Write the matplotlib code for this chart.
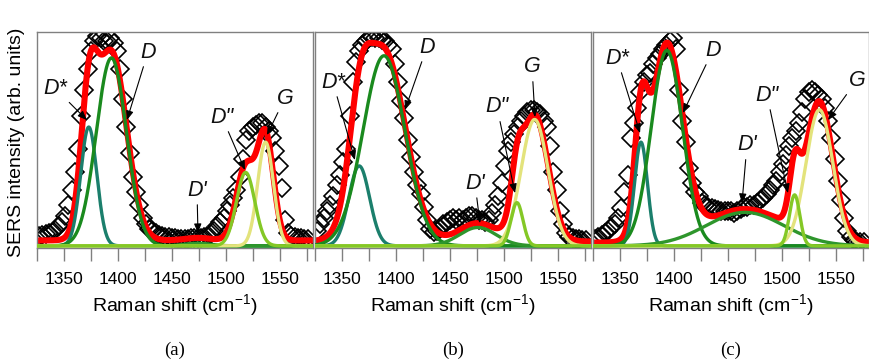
import numpy as np
import matplotlib
matplotlib.use('Agg')
import matplotlib.pyplot as plt
from matplotlib.ticker import MultipleLocator

plt.rcParams['font.family'] = ['Liberation Sans', 'DejaVu Sans']
plt.rcParams['mathtext.fontset'] = 'custom'
plt.rcParams['mathtext.rm'] = 'Liberation Sans'
plt.rcParams['mathtext.it'] = 'Liberation Sans:italic'

# ---------------- data ----------------
shift = [1327, 1330, 1333, 1336, 1339, 1342, 1345, 1348, 1351, 1354,
         1357, 1360, 1363, 1366, 1369, 1372, 1375, 1378, 1381, 1384,
         1387, 1390, 1393, 1396, 1399, 1402, 1405, 1408, 1411, 1414,
         1417, 1420, 1423, 1426, 1429, 1432, 1435, 1438, 1441, 1444,
         1447, 1450, 1453, 1456, 1459, 1462, 1465, 1468, 1471, 1474,
         1477, 1480, 1483, 1486, 1489, 1492, 1495, 1498, 1501, 1504,
         1507, 1510, 1513, 1516, 1519, 1522, 1525, 1528, 1531, 1534,
         1537, 1540, 1543, 1546, 1549, 1552, 1555, 1558, 1561, 1564,
         1567, 1570, 1573, 1576]

sers_a = [0.045, 0.05, 0.055, 0.06, 0.065, 0.075, 0.09, 0.11, 0.14, 0.19,
          0.26, 0.34, 0.45, 0.60, 0.72, 0.82, 0.90, 0.95, 0.97, 0.96,
          0.95, 0.95, 0.96, 0.94, 0.90, 0.82, 0.68, 0.55, 0.43, 0.32,
          0.25, 0.19, 0.13, 0.10, 0.08, 0.07, 0.06, 0.05, 0.045, 0.04,
          0.04, 0.035, 0.035, 0.033, 0.032, 0.032, 0.033, 0.035, 0.036, 0.038,
          0.038, 0.04, 0.045, 0.055, 0.07, 0.09, 0.11, 0.13, 0.16, 0.19,
          0.22, 0.26, 0.32, 0.40, 0.49, 0.53, 0.55, 0.56, 0.57, 0.57,
          0.55, 0.53, 0.50, 0.44, 0.37, 0.27, 0.12, 0.06, 0.045, 0.04,
          0.035, 0.035, 0.03, 0.03]

sers_b = [0.07, 0.10, 0.13, 0.16, 0.19, 0.23, 0.28, 0.33, 0.39, 0.45,
          0.60, 0.76, 0.85, 0.90, 0.93, 0.95, 0.96, 0.965, 0.96, 0.96,
          0.955, 0.95, 0.93, 0.91, 0.84, 0.76, 0.67, 0.59, 0.49, 0.41,
          0.34, 0.28, 0.24, 0.18, 0.12, 0.08, 0.065, 0.07, 0.08, 0.10,
          0.11, 0.12, 0.13, 0.12, 0.13, 0.12, 0.13, 0.14, 0.14, 0.13,
          0.12, 0.12, 0.11, 0.12, 0.15, 0.19, 0.23, 0.29, 0.37, 0.44,
          0.48, 0.52, 0.55, 0.58, 0.60, 0.62, 0.63, 0.63, 0.62, 0.61,
          0.58, 0.55, 0.46, 0.34, 0.26, 0.16, 0.10, 0.06, 0.04, 0.035,
          0.03, 0.03, 0.025, 0.025]

sers_c = [0.03, 0.04, 0.05, 0.06, 0.07, 0.085, 0.10, 0.13, 0.175, 0.25,
          0.33, 0.50, 0.57, 0.64, 0.71, 0.76, 0.79, 0.80, 0.84, 0.87,
          0.89, 0.91, 0.93, 0.95, 0.96, 0.91, 0.72, 0.58, 0.48, 0.36,
          0.29, 0.25, 0.23, 0.20, 0.19, 0.18, 0.175, 0.17, 0.165, 0.16,
          0.16, 0.16, 0.16, 0.15, 0.16, 0.17, 0.18, 0.18, 0.19, 0.19,
          0.20, 0.21, 0.22, 0.24, 0.26, 0.28, 0.30, 0.34, 0.38, 0.42,
          0.46, 0.50, 0.53, 0.57, 0.62, 0.68, 0.71, 0.72, 0.71, 0.70,
          0.68, 0.64, 0.58, 0.50, 0.40, 0.30, 0.21, 0.13, 0.07, 0.04,
          0.025, 0.02, 0.02, 0.02]

bands = ['D*', 'D', "D'", 'D"', 'G']
band_colors = ['#1b7f6c', '#1a8a1e', '#2e962c', '#84c826', '#e3e37c']
draw_order = [0, 1, 2, 4, 3]

# fitted Gaussian bands: centre (cm-1), height, sigma (cm-1); constant baseline
centre_a = [1373, 1394, 1474, 1518.5, 1537]
height_a = [0.55, 0.87, 0.012, 0.34, 0.48]
sigma_a = [7.5, 14, 12, 8.5, 7.3]
base_a = 0.025

centre_b = [1366, 1389, 1476, 1512.3, 1528.7]
height_b = [0.37, 0.88, 0.085, 0.20, 0.585]
sigma_b = [9.6, 19.5, 17, 5.5, 12.5]
base_b = 0.02

centre_c = [1369.5, 1393.5, 1466, 1512, 1535]
height_c = [0.48, 0.905, 0.155, 0.236, 0.63]
sigma_c = [6, 14.5, 36, 4.8, 12.5]
base_c = 0.015

# annotation layout (label position, arrow tip) in data coordinates
ann_text_a = [(1341.7, 0.73), (1427.9, 0.897), (1473.4, 0.258), (1496.6, 0.596), (1555, 0.684)]
ann_tip_a = [(1371.3, 0.582), (1408.4, 0.582), (1474.3, 0.059), (1517.9, 0.351), (1538.3, 0.513)]
ann_text_b = [(1341.7, 0.758), (1428.8, 0.92), (1473.4, 0.29), (1493.8, 0.643), (1526.3, 0.828)]
ann_tip_b = [(1362, 0.397), (1408.4, 0.629), (1478, 0.105), (1510.5, 0.244), (1529, 0.596)]
ann_text_c = [(1347.2, 0.869), (1436.3, 0.906), (1467.8, 0.467), (1486.4, 0.698), (1569.8, 0.767)]
ann_tip_c = [(1368.6, 0.522), (1408.4, 0.615), (1463.2, 0.198), (1505.8, 0.244), (1543, 0.582)]

panel_labels = ['(a)', '(b)', '(c)']

panels = [
    (sers_a, centre_a, height_a, sigma_a, base_a, ann_text_a, ann_tip_a),
    (sers_b, centre_b, height_b, sigma_b, base_b, ann_text_b, ann_tip_b),
    (sers_c, centre_c, height_c, sigma_c, base_c, ann_text_c, ann_tip_c),
]

# ---------------- figure ----------------
W, H = 869, 363
fig = plt.figure(figsize=(W / 100, H / 100), dpi=100)
lefts = [37, 315, 593]
pw, top_px, bot_px = 276, 32, 248
frame_col = '#808080'
xgrid = np.linspace(1320, 1585, 1200)

def gauss(x, c, h, s):
    return h * np.exp(-(x - c) ** 2 / (2 * s ** 2))

for i, (sers, cen, hei, sig, base, atext, atip) in enumerate(panels):
    ax = fig.add_axes([lefts[i] / W, (H - bot_px) / H, pw / W, (bot_px - top_px) / H])
    ax.plot(shift, sers, linestyle='none', marker='D', ms=9.5, mfc='none',
            mec='black', mew=1.2, zorder=1)
    comps = [gauss(xgrid, cen[k], hei[k], sig[k]) for k in range(5)]
    total = base + sum(comps)
    ax.plot(xgrid, total, color='#ff0000', lw=4.4, zorder=2, solid_capstyle='butt')
    for z, k in enumerate(draw_order):
        ax.plot(xgrid, comps[k], color=band_colors[k], lw=2.4, zorder=3 + z)
    for k in range(5):
        ax.annotate(bands[k], xy=atip[k], xytext=atext[k], ha='center', va='center',
                    fontsize=15.5, fontstyle='italic', color='#111111', zorder=10,
                    arrowprops=dict(arrowstyle='-|>,head_length=0.55,head_width=0.22',
                                    color='black', lw=0.8, shrinkA=1, shrinkB=0,
                                    mutation_scale=10))
    ax.set_xlim(1325, 1581)
    ax.set_ylim(-0.01, 0.99)
    ax.xaxis.set_major_locator(MultipleLocator(50))
    ax.xaxis.set_minor_locator(MultipleLocator(25))
    ax.tick_params(axis='x', which='both', direction='out', length=9, width=1,
                   color=frame_col, labelsize=12.5, pad=8)
    ax.set_yticks([])
    for sp in ax.spines.values():
        sp.set_color(frame_col)
        sp.set_linewidth(1.0)
    ax.set_xlabel('Raman shift (cm$^{-1}$)', fontsize=14, labelpad=4)
    fig.text((lefts[i] + pw / 2) / W, (H - 350) / H, panel_labels[i],
             ha='center', va='center', fontsize=13.5, family='Liberation Serif')

fig.text(17 / W, (H - 142) / H, 'SERS intensity (arb. units)', rotation=90,
         ha='center', va='center', fontsize=14)

fig.savefig('out.png', dpi=100)
